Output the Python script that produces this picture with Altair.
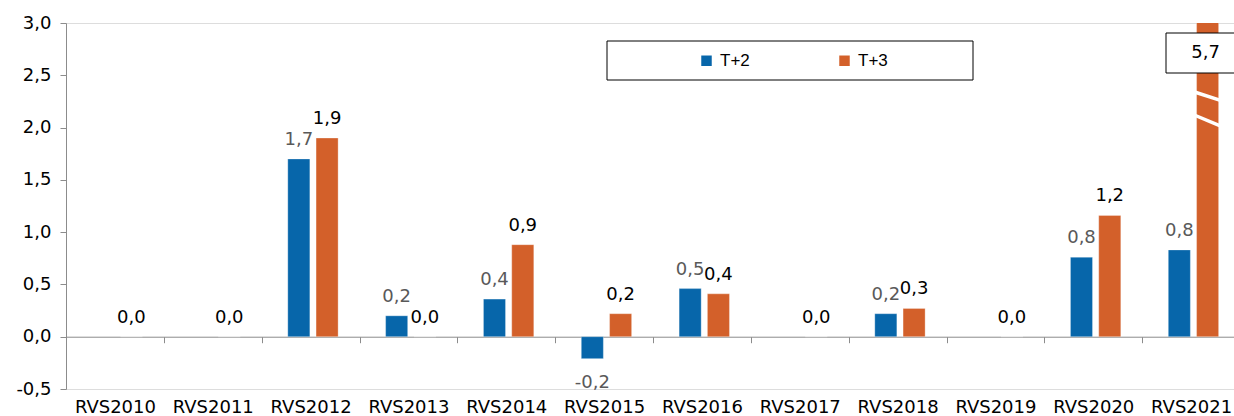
import altair as alt
import pandas as pd

categories = ["RVS2010", "RVS2011", "RVS2012", "RVS2013", "RVS2014", "RVS2015",
              "RVS2016", "RVS2017", "RVS2018", "RVS2019", "RVS2020", "RVS2021"]
t_plus_2 = [None, None, 1.70, 0.20, 0.36, -0.21, 0.46, None, 0.22, None, 0.76, 0.83]
t_plus_3 = [0.0, 0.0, 1.90, 0.0, 0.88, 0.22, 0.41, 0.0, 0.27, 0.0, 1.16, 5.7]
series = ["T+2", "T+3"]
colors = ["#0766AA", "#D3602A"]
label_colors = ["#595959", "#000000"]

rows = []
for c, a, b in zip(categories, t_plus_2, t_plus_3):
    rows.append({"cat": c, "series": "T+2", "value": a})
    rows.append({"cat": c, "series": "T+3", "value": b})
df = pd.DataFrame(rows)

W, H = 1168, 366
XRANGE = 1174
YMIN, YMAX = -0.5, 3.0
FONT = "DejaVu Sans"
FMT = "replace(replace(format(datum.value, '.1f'), '.', ','), '\u2212', '-')"

x_enc = alt.X("cat:N", sort=categories, title=None,
              scale=alt.Scale(paddingInner=0, paddingOuter=0, range=[0, XRANGE]),
              axis=alt.Axis(offset=-H * (0 - YMIN) / (YMAX - YMIN), tickBand="extent",
                            domainColor="#8c8c8c", tickColor="#8c8c8c", tickSize=6,
                            labelPadding=56, labelAngle=0, labelFontSize=18,
                            labelFont=FONT, labelColor="#000000"))
xo_enc = alt.XOffset("series:N", sort=series,
                     scale=alt.Scale(paddingInner=0.22, paddingOuter=0.84, align=0.55))
y_scale = alt.Scale(domain=[YMIN, YMAX], nice=False, zero=False)
y_enc = alt.Y("value:Q", scale=y_scale, title=None,
              axis=alt.Axis(values=[-0.5, 0, 0.5, 1, 1.5, 2, 2.5, 3], grid=False,
                            labelExpr=FMT,
                            domainColor="#8c8c8c", tickColor="#8c8c8c", tickSize=6,
                            labelPadding=9, labelFontSize=18, labelFont=FONT,
                            labelColor="#000000"))

base = alt.Chart(df).transform_filter("isValid(datum.value)")

legend_box = alt.Chart(pd.DataFrame({"k": [0]})).mark_rect(
    fill="white", stroke="black", strokeWidth=1).encode(
    x=alt.value(541), x2=alt.value(907), y=alt.value(18), y2=alt.value(57))

bars = base.mark_bar(clip=True, stroke="white", strokeWidth=0.5, strokeOpacity=0.6).encode(
    x=x_enc, xOffset=xo_enc, y=y_enc,
    color=alt.Color("series:N", sort=series,
                    scale=alt.Scale(domain=series, range=colors),
                    legend=alt.Legend(orient="none", legendX=632, legendY=29,
                                      direction="horizontal", title=None,
                                      symbolType="square", symbolSize=110,
                                      symbolStrokeWidth=0, labelFontSize=17,
                                      labelFont="Liberation Sans", labelColor="#000000",
                                      columnPadding=86, padding=0, labelOffset=5)))

brk = alt.Chart(pd.DataFrame({"a": [2.345, 2.125], "b": [2.255, 2.01]})).mark_rule(
    color="white", strokeWidth=3.5).encode(
    x=alt.value(1127), x2=alt.value(1156), y=alt.Y("a:Q", scale=y_scale), y2="b:Q")

lbl_layers = []
for s, col in zip(series, label_colors):
    common = base.transform_filter(alt.datum.series == s).transform_calculate(lbl=FMT)
    pos = common.transform_filter("datum.value >= 0 && datum.value <= 3").mark_text(
        baseline="alphabetic", dy=-14, fontSize=18, font=FONT, color=col).encode(
        x=x_enc, xOffset=xo_enc, y=y_enc, text="lbl:N")
    neg = common.transform_filter("datum.value < 0").mark_text(
        baseline="alphabetic", dy=29, fontSize=18, font=FONT, color=col).encode(
        x=x_enc, xOffset=xo_enc, y=y_enc, text="lbl:N")
    lbl_layers += [pos, neg]

big_box = alt.Chart(pd.DataFrame({"k": [0]})).mark_rect(
    fill="white", stroke="black", strokeWidth=1).encode(
    x=alt.value(1100), x2=alt.value(1170), y=alt.value(10), y2=alt.value(50))
big_lbl = base.transform_filter("datum.value > 3").transform_calculate(lbl=FMT).mark_text(
    fontSize=18, font=FONT, color="black", baseline="middle", dx=-2).encode(
    x=x_enc, xOffset=xo_enc, y=alt.value(30), text="lbl:N")

chart = alt.layer(legend_box, bars, brk, *lbl_layers, big_box, big_lbl).properties(
    width=W, height=H,
    autosize=alt.AutoSizeParams(type="none"),
    padding={"left": 66, "top": 23, "right": 0, "bottom": 27},
).configure_view(stroke=None).configure(background="white")

chart.save("out.html", embed_options={"renderer": "svg", "actions": False})
